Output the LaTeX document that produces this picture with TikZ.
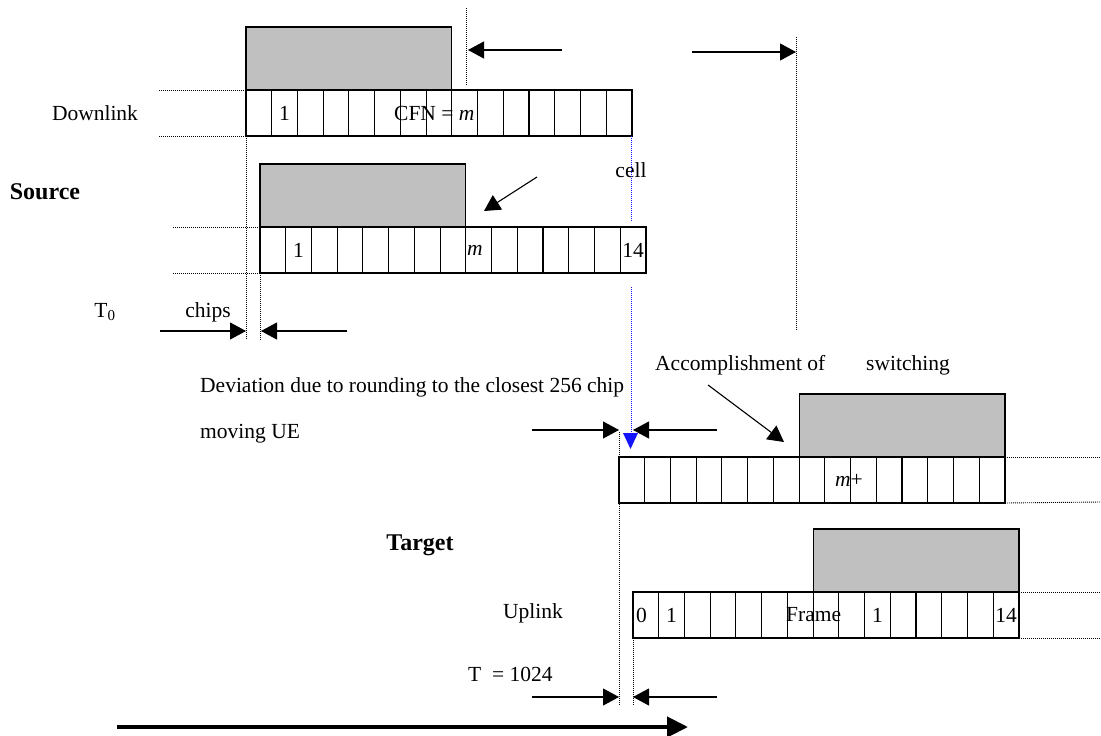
\documentclass[tikz,border=0pt]{standalone}
\usepackage{fontspec}
\setmainfont{Liberation Serif}
\usepackage{tikz}
\usetikzlibrary{arrows.meta, positioning}
\definecolor{blockgray}{RGB}{192, 192, 192}
\definecolor{markblue}{RGB}{20, 20, 255}
\tikzstyle{slot} = [rectangle, draw, line width=1.1pt, minimum width=25.73pt, minimum height=46pt,
                    inner sep=0pt, outer sep=0pt, anchor=north west]
\tikzstyle{block} = [rectangle, draw, line width=1.1pt, fill=blockgray, minimum width=205.9pt,
                     minimum height=63pt, inner sep=0pt, outer sep=0pt, anchor=south west]
\tikzstyle{txt} = [inner sep=0pt, font=\fontsize{21.5}{24}\selectfont]
\tikzstyle{side} = [inner sep=0pt, font=\fontsize{24}{28}\selectfont\bfseries]
\tikzstyle{guide} = [line width=0.9pt, dash pattern=on 1pt off 1pt]
\tikzstyle{arrow} = [-{Triangle[length=16pt, width=17pt]}, line width=1.1pt]

\begin{document}
\begin{tikzpicture}[x=1pt, y=-1pt]
    \useasboundingbox (0,0) rectangle (1101,736);
    % Frame rows
    \foreach \i in {1,...,15} {
        \node[slot] (dl\i) at ({246+(\i-1)*25.73}, 90) {};
        \node[slot] (sc\i) at ({260+(\i-1)*25.73}, 227) {};
        \node[slot] (tg\i) at ({619+(\i-1)*25.73}, 457) {};
        \node[slot] (ul\i) at ({633+(\i-1)*25.73}, 592) {};
    }
    \node[block] (dlblock) at (dl1.north west) {};
    \node[block] (scblock) at (sc1.north west) {};
    \node[block] (tgblock) at (tg8.north west) {};
    \node[block] (ulblock) at (ul8.north west) {};

    % Texts in the frames
    \node[txt] (dlone) at (dl2) {1};
    \node[txt, anchor=west] (cfn) at (394,113) {CFN = \textit{m}};
    \node[txt] (scone) at (sc2) {1};
    \node[txt, anchor=west] (scm) at (467,250) {\textit{m}};
    \node[txt] (scend) at (sc15) {14};
    \node[txt, anchor=west] (tgm) at (835,480) {\textit{m}+};
    \node[txt, anchor=west] (ulzero) at (636,615) {0};
    \node[txt] (ulone) at (ul2) {1};
    \node[txt, anchor=west] (frame) at (786,615) {Frame};
    \node[txt] (ulten) at (ul10) {1};
    \node[txt] (ulend) at (ul15) {14};

    % Side labels
    \node[txt] (downlink) at (95,113) {Downlink};
    \node[side] (source) at (45,192) {Source};
    \node[side] (target) at (420,545) {Target};
    \node[txt] (uplink) at (533,613) {Uplink};
    \node[txt] (tzero) at (105,312) {T\textsubscript{0}};
    \node[txt] (chips) at (208,312) {chips};
    \node[txt] (cell) at (631,170) {cell};
    \node[txt, anchor=west] (deviation) at (200,387) {Deviation due to rounding to the closest 256 chip};
    \node[txt, anchor=west] (moving) at (200,434) {moving UE};
    \node[txt, anchor=west] (accomp) at (655,365) {Accomplishment of};
    \node[txt, anchor=west] (switching) at (866,365) {switching};
    \node[txt, anchor=west] (tten) at (468,674) {T\ \ = 1024};

    % Guide lines
    \draw[guide] (dl1.north west) -- ++(-88,0);
    \draw[guide] (dl1.south west) -- ++(-88,0);
    \draw[guide] (sc1.north west) -- ++(-87,0);
    \draw[guide] (sc1.south west) -- ++(-87,0);
    \draw[guide] (tg15.north east) -- (1101,457);
    \draw[guide] (tg15.south east) -- (1101,502);
    \draw[guide] (ul15.north east) -- (1101,592);
    \draw[guide] (ul15.south east) -- (1101,638);
    \draw[guide] (466,8) -- (466,86);
    \draw[guide] (796,37) -- (796,330);
    \draw[guide] (dl1.south west) -- (246,340);
    \draw[guide] (sc1.south west) -- (260,340);
    \draw[guide] (619,432) -- (619,705);
    \draw[guide] (ul1.south west) -- (633,705);
    \draw[guide, markblue] (631,136) -- (631,221);
    \draw[guide, markblue] (631,287) -- (631,433);
    \fill[markblue] (623,433) -- (638,433) -- (630.5,449) -- cycle;

    % Arrows
    \coordinate (a1) at (562,50);
    \coordinate (a2) at (468,50);
    \coordinate (b1) at (692,52);
    \coordinate (b2) at (796,52);
    \coordinate (c1) at (537,177);
    \coordinate (c2) at (484,211);
    \coordinate (d1) at (160,331);
    \coordinate (d2) at (246,331);
    \coordinate (e1) at (347,331);
    \coordinate (e2) at (261,331);
    \coordinate (f1) at (532,430);
    \coordinate (f2) at (619,430);
    \coordinate (g1) at (717,430);
    \coordinate (g2) at (633,430);
    \coordinate (h1) at (708,385);
    \coordinate (h2) at (784,442);
    \coordinate (k1) at (532,697);
    \coordinate (k2) at (619,697);
    \coordinate (l1) at (717,697);
    \coordinate (l2) at (633,697);
    \coordinate (m1) at (117,727);
    \coordinate (m2) at (688,727);
    \draw[arrow] (a1) -- (a2);
    \draw[arrow] (b1) -- (b2);
    \draw[arrow] (c1) -- (c2);
    \draw[arrow] (d1) -- (d2);
    \draw[arrow] (e1) -- (e2);
    \draw[arrow] (f1) -- (f2);
    \draw[arrow] (g1) -- (g2);
    \draw[arrow] (h1) -- (h2);
    \draw[arrow] (k1) -- (k2);
    \draw[arrow] (l1) -- (l2);
    \draw[-{Triangle[length=21pt, width=20pt]}, line width=4.3pt] (m1) -- (m2);
\end{tikzpicture}
\end{document}
